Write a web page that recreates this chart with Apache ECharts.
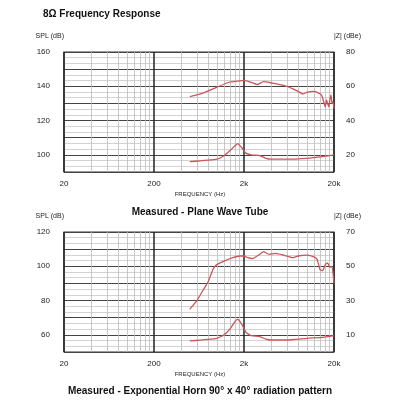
<!DOCTYPE html>
<html>
<head>
<meta charset="utf-8">
<script src="https://cdn.jsdelivr.net/npm/echarts@6/dist/echarts.min.js"></script>
<style>html,body{margin:0;padding:0;background:#fff}#main{width:400px;height:400px}</style>
</head>
<body>
<div id="main"></div>
<script>
// 频率标签
var freqLabels = ['20', '200', '2k', '20k'];

// 上图 平面波管
var splFreq1 = [500, 700, 1000, 1400, 1700, 2000, 2500, 2800, 3300, 4000, 5000, 6000, 7000, 8000, 9000, 10000, 12000, 13000, 14500, 15000, 15500, 16000, 16500, 17000, 17500, 18000, 18500, 19000, 19500, 20000];
var splVal1 = [134, 136, 139.5, 142.5, 143, 143.5, 142, 141, 142.7, 142, 141, 140, 138.5, 137, 135.5, 136.5, 137, 136.5, 135, 133, 130, 128, 132, 130, 128, 132, 135, 130, 131, 127];
var zFreq1 = [500, 1000, 1200, 1400, 1600, 1700, 1900, 2100, 2400, 3000, 3500, 4000, 6000, 10000, 15000, 20000];
var zVal1 = [16, 17.5, 19.5, 22.5, 25.5, 26.5, 24, 21, 20, 19.5, 18, 17.5, 17.5, 18, 19, 20];

// 下图 指数号角
var splFreq2 = [500, 600, 700, 800, 900, 950, 1000, 1200, 1500, 1800, 2000, 2200, 2500, 3000, 3300, 3800, 4500, 5500, 7000, 8000, 10000, 12000, 13000, 14000, 15000, 16000, 17000, 18000, 19000, 20000];
var splVal2 = [75, 80, 86, 91, 98, 100, 101, 103, 105, 106, 106, 105, 104.5, 107, 108.5, 107, 107.5, 106.5, 105, 106, 106.5, 105.5, 104, 98, 97.5, 101, 102, 99.5, 100, 90];
var zFreq2 = [500, 1000, 1200, 1400, 1600, 1700, 1900, 2100, 2400, 3000, 3500, 4000, 6000, 10000, 15000, 20000];
var zVal2 = [6.5, 8, 10, 13.5, 18, 19, 16, 11.5, 9.5, 9, 7.5, 7, 7, 8, 8.5, 9.5];

var red = '#c9575a';
// 对数刻度的次网格线 (2..9 每十倍频程)
var minorFreq = [];
[20, 200, 2000].forEach(function (d) {
    for (var k = 2; k < 10; k++) minorFreq.push(d * k);
});

function lx(f) { return Math.log10(f / 20); }
function pts(fs, vs) {
    return fs.map(function (f, i) { return [lx(f), vs[i]]; });
}

var narrow = 'Liberation Sans Narrow, Arial Narrow, sans-serif';

function makeGrid(idx, top, ymin, ymax, rmin, labelSet, rlabelSet) {
    return {
        grid: { left: 64, right: 66, top: top, height: 120 },
        xAxis: {
            gridIndex: idx, type: 'value', min: 0, max: 3, interval: 1,
            axisLine: { show: false }, axisTick: { show: false },
            axisLabel: {
                color: '#222', fontSize: 8, fontFamily: narrow,
                margin: 8, formatter: function (v) { return freqLabels[Math.round(v)]; }
            },
            splitLine: { lineStyle: { color: '#222', width: 1.5 } }
        },
        yAxes: [{
            gridIndex: idx, type: 'value', min: ymin, max: ymax, interval: 10,
            axisLine: { show: false }, axisTick: { show: false },
            axisLabel: {
                color: '#222', fontSize: 8, fontFamily: narrow, margin: 14,
                formatter: function (v) { return labelSet.indexOf(v) >= 0 ? v : ''; }
            },
            splitLine: { lineStyle: { color: '#444', width: 1.2 } },
            minorTick: { show: false, splitNumber: 3 },
            minorSplitLine: { show: true, lineStyle: { color: '#c8c8c8', width: 0.8 } },
            name: 'SPL (dB)', nameLocation: 'end', nameGap: 12,
            nameTextStyle: { color: '#222', fontSize: 7, align: 'right', fontFamily: narrow }
        }, {
            gridIndex: idx, type: 'value', position: 'right', min: rmin, max: rmin + (ymax - ymin), interval: 10,
            axisLine: { show: false }, axisTick: { show: false }, splitLine: { show: false },
            axisLabel: {
                color: '#222', fontSize: 8, fontFamily: narrow, margin: 12,
                formatter: function (v) { return rlabelSet.indexOf(v) >= 0 ? v : ''; }
            },
            name: '|Z| (dBe)', nameLocation: 'end', nameGap: 12,
            nameTextStyle: { color: '#222', fontSize: 7, align: 'left', fontFamily: narrow }
        }]
    };
}

var g1 = makeGrid(0, 52, 90, 160, 10, [100, 120, 140, 160], [20, 40, 60, 80]);
var g2 = makeGrid(1, 232, 50, 120, 0, [60, 80, 100, 120], [10, 30, 50, 70]);

function lineSeries(xi, yi, data) {
    return {
        type: 'line', xAxisIndex: xi, yAxisIndex: yi, data: data, showSymbol: false,
        smooth: 0.15, lineStyle: { color: red, width: 1.3 }, silent: true, z: 5
    };
}
function minorLines(xi, yi) {
    return {
        type: 'line', xAxisIndex: xi, yAxisIndex: yi, data: [], silent: true, z: 1,
        markLine: {
            symbol: 'none', silent: true, label: { show: false },
            lineStyle: { color: '#bbb', type: 'solid', width: 0.8 },
            data: minorFreq.map(function (f) { return { xAxis: lx(f) }; })
        }
    };
}

var chart = echarts.init(document.getElementById('main'));
var option = {
    animation: false,
    title: [
        { text: '8Ω Frequency Response', left: 38, top: 4, textStyle: { fontSize: 10, fontWeight: 'bold', color: '#111', fontFamily: 'Liberation Sans, Arial, sans-serif' } },
        { text: 'FREQUENCY (Hz)', left: 'center', top: 186, textStyle: { fontSize: 6, fontWeight: 'normal', color: '#222', fontFamily: narrow } },
        { text: 'Measured - Plane Wave Tube', left: 'center', top: 202, textStyle: { fontSize: 10, fontWeight: 'bold', color: '#111', fontFamily: narrow } },
        { text: 'FREQUENCY (Hz)', left: 'center', top: 366, textStyle: { fontSize: 6, fontWeight: 'normal', color: '#222', fontFamily: narrow } },
        { text: 'Measured - Exponential Horn 90° x 40° radiation pattern', left: 'center', top: 381, textStyle: { fontSize: 10, fontWeight: 'bold', color: '#111', fontFamily: narrow } }
    ],
    grid: [
        Object.assign({ show: true, borderColor: '#333', borderWidth: 1.2 }, g1.grid),
        Object.assign({ show: true, borderColor: '#333', borderWidth: 1.2 }, g2.grid)
    ],
    xAxis: [g1.xAxis, g2.xAxis],
    yAxis: [g1.yAxes[0], g1.yAxes[1], g2.yAxes[0], g2.yAxes[1]],
    series: [
        minorLines(0, 0),
        minorLines(1, 2),
        lineSeries(0, 0, pts(splFreq1, splVal1)),
        lineSeries(0, 1, pts(zFreq1, zVal1)),
        lineSeries(1, 2, pts(splFreq2, splVal2)),
        lineSeries(1, 3, pts(zFreq2, zVal2))
    ]
};
chart.setOption(option);
</script>
</body>
</html>
